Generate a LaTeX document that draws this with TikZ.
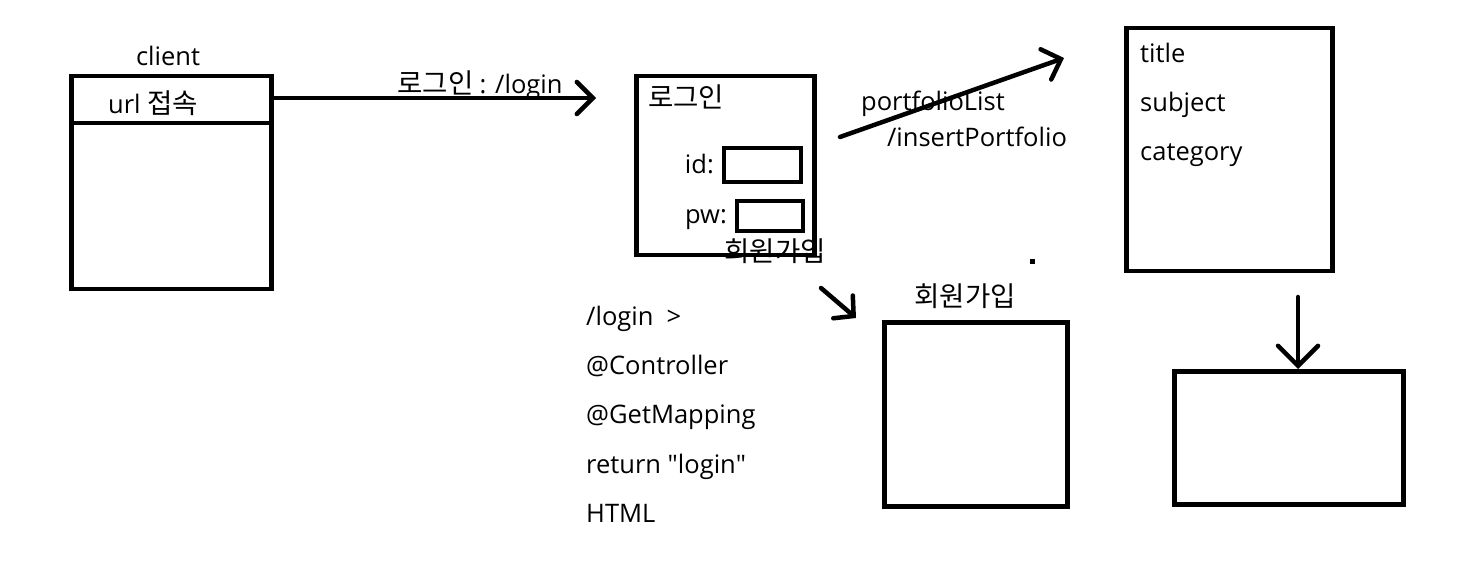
\documentclass[tikz,border=0pt]{standalone}
\usepackage{fontspec}
\setmainfont{Open Sans}
\newfontfamily\kr[Scale=1.08]{Noto Sans CJK KR}
\newfontfamily\qf{Open Sans}
\usetikzlibrary{arrows.meta}
\tikzset{
  box/.style={draw, line width=4.5pt, inner sep=0pt, anchor=north west},
  txt/.style={inner sep=0pt, font=\fontsize{25.5}{28}\selectfont},
  conn/.style={line width=4.5pt, line cap=round, -{Straight Barb[length=16pt,width=32pt,line cap=round]}},
}
\begin{document}
\begin{tikzpicture}[x=1pt,y=-1pt]
\useasboundingbox (0,0) rectangle (1467,585);
% client
\node[box, minimum width=200pt, minimum height=213pt] (client) at (69,74) {};
\draw[line width=4.5pt] (69,123) -- (269,123);
\node[txt, anchor=base] (clientlbl) at (168,66) {client};
\node[txt, anchor=base] (url) at (153,114) {url \kr 접속};
% login arrow
\coordinate (loginend) at (596,98);
\draw[conn] (client.east |- 0,98) -- (loginend);
\node[txt, anchor=base] (loginlbl) at (480,94) {\kr 로그인 \rmfamily: /login};
% login box
\node[box, minimum width=178pt, minimum height=179pt] (login) at (634,74) {};
\node[txt, anchor=base] (logintitle) at (686,108) {\kr 로그인};
\node[box, line width=4pt, minimum width=77pt, minimum height=34pt] (idbox) at (722,146) {};
\node[box, line width=4pt, minimum width=66pt, minimum height=30pt] (pwbox) at (735,199) {};
\node[txt, anchor=base east] (idlbl) at (714,174) {id:};
\node[txt, anchor=base east] (pwlbl) at (727,224) {pw:};
\node[txt, anchor=base] (join1) at (775,262) {\kr 회원가입};
% portfolio arrow
\coordinate (pfstart) at (840,137);
\coordinate (pfend) at (1064,58);
\draw[conn] (pfstart) -- (pfend);
\node[txt, anchor=base] (pflist) at (933,111) {portfolioList};
\node[txt, anchor=base] (pfinsert) at (977,147) {/insertPortfolio};
% right box
\node[box, minimum width=206pt, minimum height=243pt] (detail) at (1124,26) {};
\node[txt, anchor=base west] (ttl) at (1140,63) {title};
\node[txt, anchor=base west] (subj) at (1140,112) {subject};
\node[txt, anchor=base west] (cat) at (1140,161) {category};
% dot
\node[fill, inner sep=0pt, minimum size=5pt] (dot) at (1032,262) {};
% bottom right box
\node[box, minimum width=229pt, minimum height=133pt] (result) at (1172,369) {};
\coordinate (downstart) at (1298,297);
\draw[conn, -{Straight Barb[length=20pt,width=40pt,line cap=round]}] (downstart) -- (result.north -| downstart);
% join box
\coordinate (smallstart) at (821,288);
\coordinate (smallend) at (856,318);
\draw[conn, -{Straight Barb[length=14pt,width=30pt,line cap=round]}] (smallstart) -- (smallend);
\node[txt, anchor=base] (join2) at (965,306) {\kr 회원가입};
\node[box, minimum width=183pt, minimum height=184pt] (joinbox) at (882,320) {};
% code notes
\node[txt, anchor=base west] (n1) at (586,325) {/login \ >};
\node[txt, anchor=base west] (n2) at (586,374) {@Controller};
\node[txt, anchor=base west] (n3) at (586,423) {@GetMapping};
\node[txt, anchor=base west] (n4) at (586,473) {return {\qf"}login{\qf"}};
\node[txt, anchor=base west] (n5) at (586,522) {HTML};
\end{tikzpicture}
\end{document}
